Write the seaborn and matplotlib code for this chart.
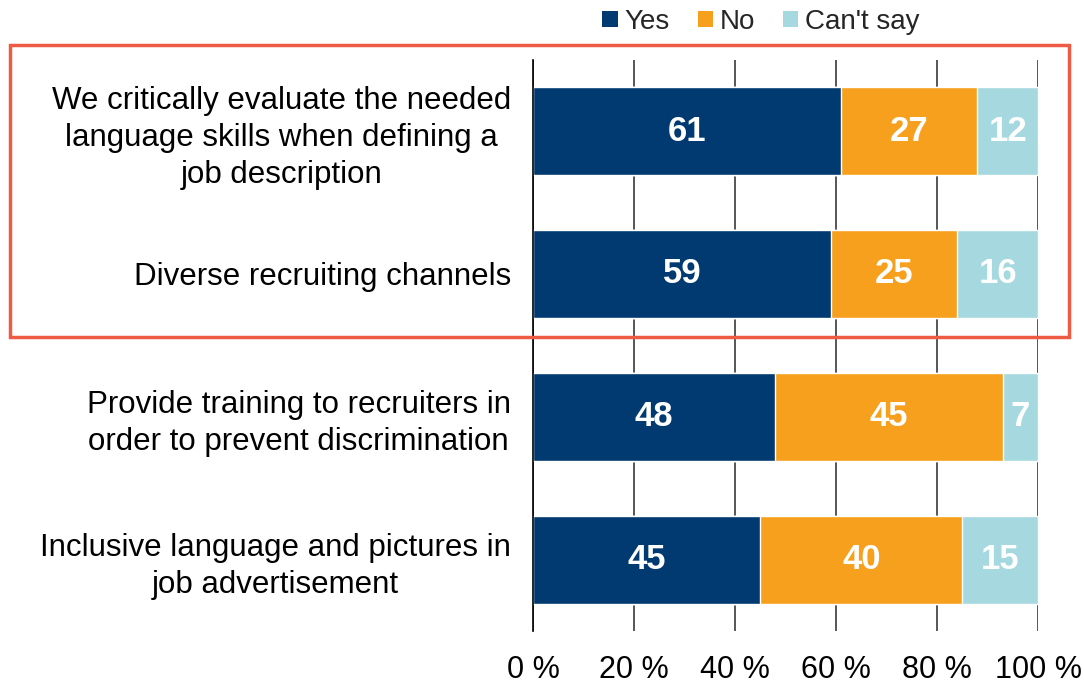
import seaborn as sns
import numpy as np
import pandas as pd
import matplotlib.pyplot as plt
from matplotlib.patches import Rectangle, Patch

categories = [
    "We critically evaluate the needed\nlanguage skills when defining a\njob description",
    "Diverse recruiting channels",
    "Provide training to recruiters in\norder to prevent discrimination",
    "Inclusive language and pictures in\njob advertisement",
]
yes = [61, 59, 48, 45]
no = [27, 25, 45, 40]
cant_say = [12, 16, 7, 15]

series = ["Yes", "No", "Can't say"]
colors = ["#003a70", "#f7a01e", "#a6d8e0"]

sns.set_theme(style="white")
plt.rcParams["font.family"] = ["Liberation Sans", "DejaVu Sans"]

df = pd.DataFrame({"cat": categories, "Yes": yes, "No": no, "Can't say": cant_say})
df["c_no"] = df["Yes"] + df["No"]
df["c_all"] = df["c_no"] + df["Can't say"]

fig = plt.figure(figsize=(10.84, 6.84), dpi=100)
ax = fig.add_axes([0.4917, 0.0768, 0.4659, 0.8362])

# stacked by overlaying cumulative totals
for col, c in zip(["c_all", "c_no", "Yes"], colors[::-1]):
    sns.barplot(data=df, x=col, y="cat", color=c, width=0.62, ax=ax,
                saturation=1, orient="h")

# segment labels
for i, row in df.iterrows():
    starts = [0, row["Yes"], row["c_no"]]
    for s, v in zip(starts, [row["Yes"], row["No"], row["Can't say"]]):
        ax.text(s + v / 2, i, f"{v}", ha="center", va="center",
                color="white", fontsize=25, fontweight="bold")

ax.set_xlim(0, 100)
ax.set_ylim(3.5, -0.5)
ax.set_xticks(np.arange(0, 101, 20))
ax.set_xticklabels([f"{t} %" for t in range(0, 101, 20)])
ax.xaxis.grid(True, color="#3a3a3a", linewidth=1.2)
ax.set_axisbelow(True)
for s in ["top", "right", "bottom"]:
    ax.spines[s].set_visible(False)
ax.spines["left"].set_color("black")
ax.spines["left"].set_linewidth(1.2)
ax.tick_params(axis="x", length=0, pad=17, labelsize=22, colors="black")
ax.tick_params(axis="y", length=0, pad=16, labelsize=22.5, colors="black")
for lab in ax.get_yticklabels():
    lab.set_multialignment("center")
    lab.set_linespacing(1.3)
ax.set_xlabel("")
ax.set_ylabel("")

handles = [Patch(facecolor=c, edgecolor="none") for c in colors]
fig.legend(handles, series, loc="center", bbox_to_anchor=(0.702, 0.968),
           ncol=3, frameon=False, fontsize=20, handlelength=0.55,
           handleheight=0.55, handletextpad=0.25, columnspacing=1.0)

# highlight box around first two rows
fig.patches.append(Rectangle((10 / 1084, 1 - 337 / 684), 1059 / 1084, 292 / 684,
                             transform=fig.transFigure, fill=False,
                             edgecolor="#ee5b45", linewidth=2.5))

fig.savefig("out.png", dpi=100)
